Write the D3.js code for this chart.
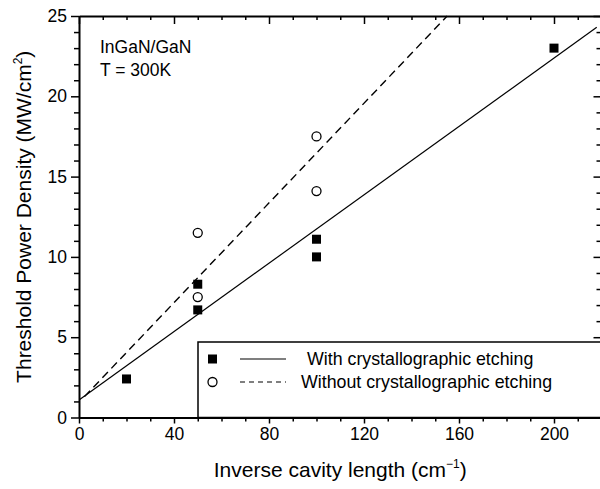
<!DOCTYPE html>
<html>
<head>
<meta charset="utf-8">
<script src="https://cdn.jsdelivr.net/npm/d3@7"></script>
<style>
  body { margin: 0; background: #fff; }
  svg { display: block; font-family: 'Liberation Sans', Arial, sans-serif; }
</style>
</head>
<body>
<div id="chart"></div>
<script>
// data
const withEtchX = [20, 50, 50, 100, 100, 200];
const withEtchY = [2.4, 8.3, 6.7, 11.1, 10.0, 23.0];
const withoutEtchX = [50, 50, 100, 100];
const withoutEtchY = [11.5, 7.5, 17.5, 14.1];
// linear fit lines (end points)
const withFitX = [0.3, 218];
const withFitY = [1.12, 24.3];
const withoutFitX = [2.3, 155];
const withoutFitY = [1.3, 25];

const xTicks = [0, 40, 80, 120, 160, 200];
const xMinor = d3.range(0, 221, 10).filter(v => v % 40 !== 0);
const yTicks = [0, 5, 10, 15, 20, 25];
const yMinor = d3.range(0, 26, 1).filter(v => v % 5 !== 0);

const legendLabels = ['With crystallographic etching', 'Without crystallographic etching'];
const notes = ['InGaN/GaN', 'T = 300K'];

function draw () {
  const svgWidth = 600;
  const svgHeight = 489;

  const svg = d3.select('#chart')
    .append('svg')
    .attr('width', svgWidth)
    .attr('height', svgHeight);

  const x = d3.scaleLinear().domain([0, 220]).range([79, 601.5]);
  const y = d3.scaleLinear().domain([0, 25]).range([417.5, 16]);

  // axes: major + minor ticks on all four sides
  function styleAxis (g) {
    g.select('.domain').attr('stroke-width', 2);
    g.selectAll('.tick line').attr('stroke-width', 1.5);
    g.selectAll('.tick text').attr('font-size', 17.5).attr('fill', '#000');
  }
  const bottom = y(0), top = y(25), left = x(0), right = x(220);

  svg.append('g').attr('transform', `translate(0,${bottom})`)
    .call(d3.axisBottom(x).tickValues(xTicks).tickSize(6).tickSizeOuter(0).tickPadding(4))
    .call(styleAxis);
  svg.append('g').attr('transform', `translate(0,${bottom})`)
    .call(d3.axisBottom(x).tickValues(xMinor).tickSize(4).tickFormat(''))
    .call(g => g.select('.domain').remove())
    .call(styleAxis);

  svg.append('g').attr('transform', `translate(${left},0)`)
    .call(d3.axisLeft(y).tickValues(yTicks).tickSize(8).tickSizeOuter(0).tickPadding(4))
    .call(styleAxis);
  svg.append('g').attr('transform', `translate(${left},0)`)
    .call(d3.axisLeft(y).tickValues(yMinor).tickSize(5).tickFormat(''))
    .call(g => g.select('.domain').remove())
    .call(styleAxis);

  svg.append('g').attr('transform', `translate(0,${top})`)
    .call(d3.axisBottom(x).tickValues(xTicks).tickSize(8).tickSizeOuter(0).tickFormat(''))
    .call(styleAxis);
  svg.append('g').attr('transform', `translate(0,${top})`)
    .call(d3.axisBottom(x).tickValues(xMinor).tickSize(4).tickFormat(''))
    .call(g => g.select('.domain').remove())
    .call(styleAxis);

  svg.append('g').attr('transform', `translate(${right},0)`)
    .call(d3.axisLeft(y).tickValues(yTicks).tickSize(8).tickSizeOuter(0).tickFormat(''))
    .call(styleAxis);
  svg.append('g').attr('transform', `translate(${right},0)`)
    .call(d3.axisLeft(y).tickValues(yMinor).tickSize(5).tickFormat(''))
    .call(g => g.select('.domain').remove())
    .call(styleAxis);

  // axis titles
  const xTitle = svg.append('text')
    .attr('x', (left + right) / 2).attr('y', 477)
    .attr('text-anchor', 'middle').attr('font-size', 21)
    .text('Inverse cavity length (cm');
  xTitle.append('tspan').attr('font-size', 12).attr('dy', -9).text('\u22121');
  xTitle.append('tspan').attr('dy', 9).text(')');

  const yTitle = svg.append('text')
    .attr('transform', `translate(31,${(top + bottom) / 2}) rotate(-90)`)
    .attr('text-anchor', 'middle').attr('font-size', 21)
    .text('Threshold Power Density (MW/cm');
  yTitle.append('tspan').attr('font-size', 12).attr('dy', -9).text('2');
  yTitle.append('tspan').attr('dy', 9).text(')');

  // annotation
  svg.selectAll('text.note')
    .data(notes)
    .join('text')
    .attr('class', 'note')
    .attr('x', 100)
    .attr('y', (d, i) => 53 + i * 23)
    .attr('font-size', 17.5)
    .text(d => d);

  // fit lines
  const line = d3.line().x(d => x(d[0])).y(d => y(d[1]));
  svg.append('path')
    .datum(d3.zip(withFitX, withFitY))
    .attr('fill', 'none').attr('stroke', '#000').attr('stroke-width', 1.2)
    .attr('d', line);
  svg.append('path')
    .datum(d3.zip(withoutFitX, withoutFitY))
    .attr('fill', 'none').attr('stroke', '#000').attr('stroke-width', 1.4)
    .attr('stroke-dasharray', '8,5')
    .attr('d', line);

  // points
  const sq = 9;
  svg.selectAll('rect.with')
    .data(d3.zip(withEtchX, withEtchY))
    .join('rect')
    .attr('class', 'with')
    .attr('x', d => x(d[0]) - sq / 2)
    .attr('y', d => y(d[1]) - sq / 2)
    .attr('width', sq).attr('height', sq)
    .attr('fill', '#000');
  svg.selectAll('circle.without')
    .data(d3.zip(withoutEtchX, withoutEtchY))
    .join('circle')
    .attr('class', 'without')
    .attr('cx', d => x(d[0]))
    .attr('cy', d => y(d[1]))
    .attr('r', 4.5)
    .attr('fill', '#fff').attr('stroke', '#000').attr('stroke-width', 1.3);

  // legend
  const lg = svg.append('g');
  lg.append('rect')
    .attr('x', 198).attr('y', 342)
    .attr('width', 420).attr('height', bottom - 342)
    .attr('fill', '#fff').attr('stroke', '#000').attr('stroke-width', 1.5);
  const rows = lg.selectAll('g.row')
    .data(legendLabels)
    .join('g')
    .attr('class', 'row')
    .attr('transform', (d, i) => `translate(0,${359 + i * 23})`);
  rows.filter((d, i) => i === 0).append('rect')
    .attr('x', 208).attr('y', -4.5).attr('width', sq).attr('height', sq).attr('fill', '#000');
  rows.filter((d, i) => i === 1).append('circle')
    .attr('cx', 212.5).attr('cy', 0).attr('r', 4.5)
    .attr('fill', '#fff').attr('stroke', '#000').attr('stroke-width', 1.3);
  rows.append('line')
    .attr('x1', 240).attr('x2', 286).attr('y1', 0).attr('y2', 0)
    .attr('stroke', '#000').attr('stroke-width', 1.2)
    .attr('stroke-dasharray', (d, i) => i === 1 ? '5,4' : null);
  rows.append('text')
    .attr('x', (d, i) => i === 0 ? 307 : 301)
    .attr('y', 6)
    .attr('font-size', 17.8)
    .text(d => d);
}
draw();
</script>
</body>
</html>
